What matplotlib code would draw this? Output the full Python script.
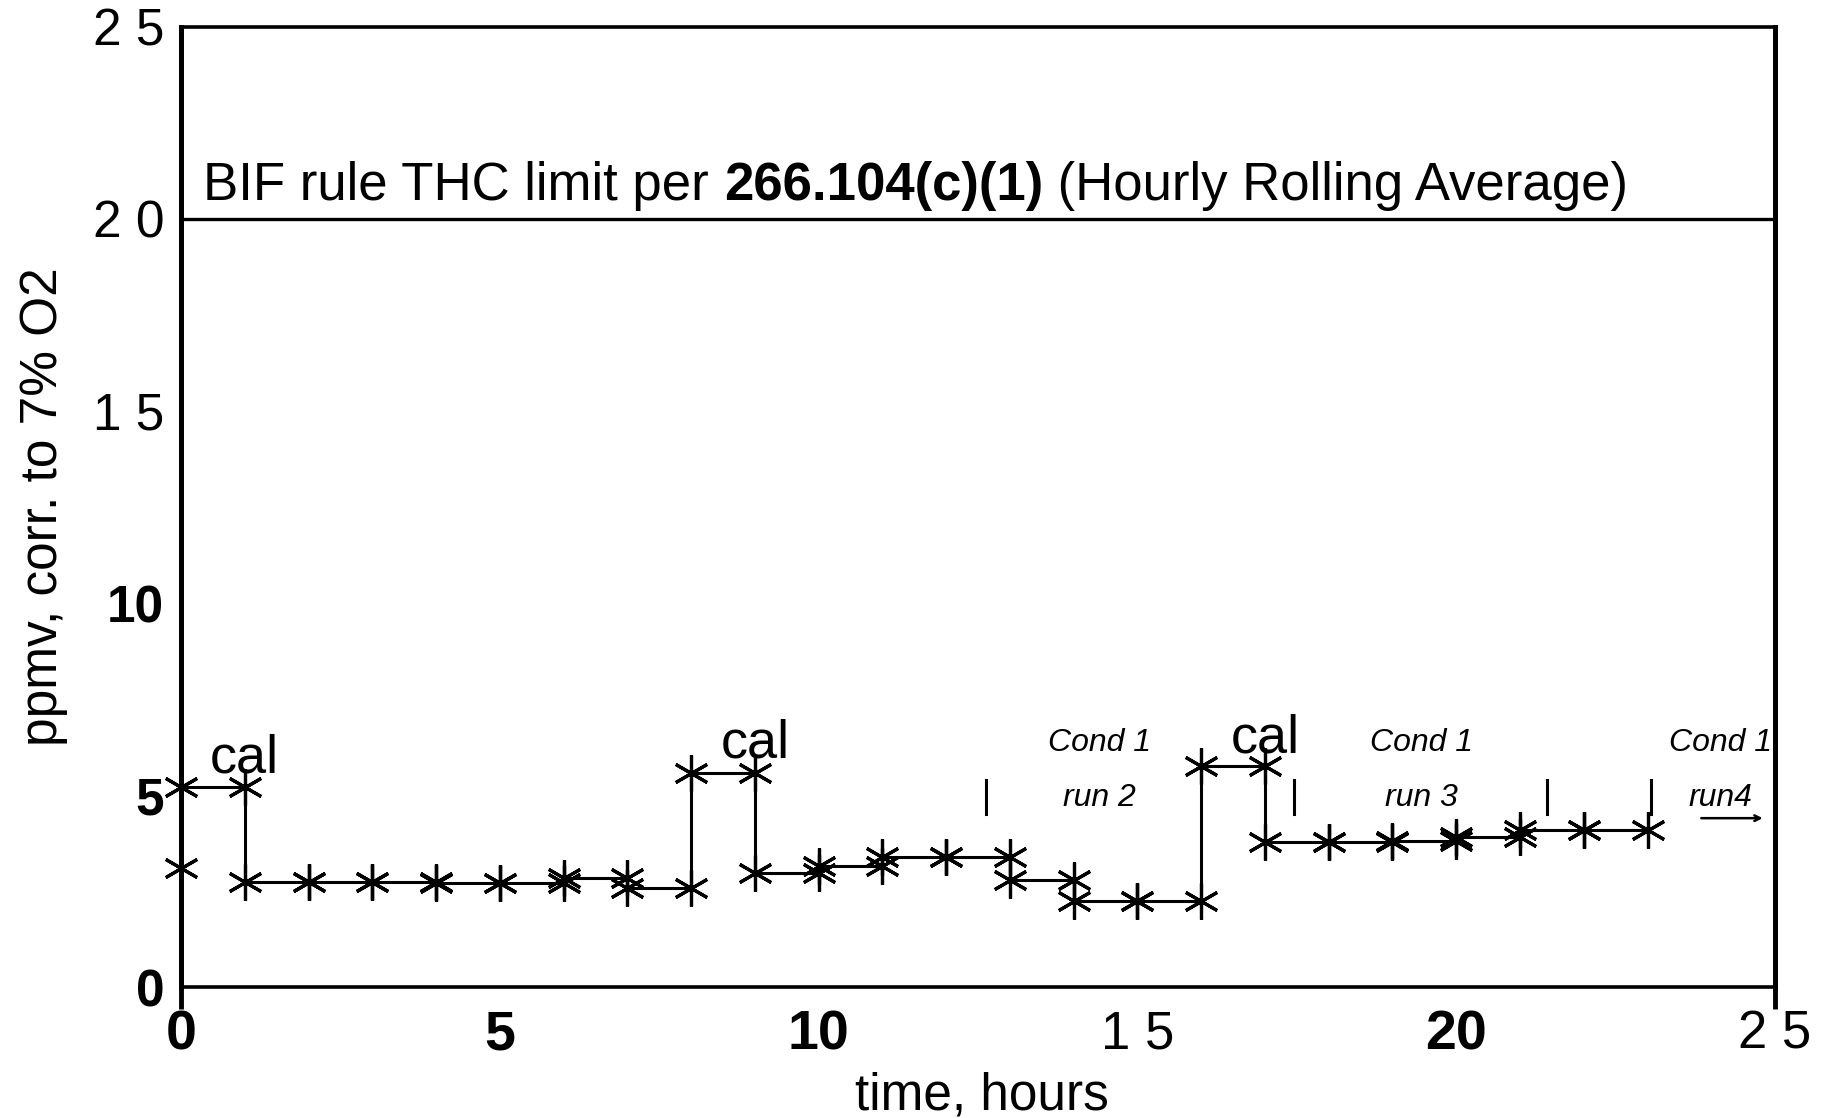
import numpy as np
import matplotlib.pyplot as plt

# hourly rolling average THC, each value covers hour h -> h+1
hour_start = np.arange(-1, 23)
thc_avg = [3.09, 5.21, 2.73, 2.73, 2.73, 2.72, 2.72, 2.84, 2.58, 5.58,
           2.96, 3.16, 3.39, 3.39, 2.79, 2.25, 2.25, 5.76, 3.78, 3.78,
           3.80, 3.92, 4.08, 4.08]

thc_limit = 20
limit_label = "BIF rule THC limit per "
limit_rule = "266.104(c)(1)"
limit_tail = " (Hourly Rolling Average)"

cal_hours = [1.0, 9.0, 17.0]
cal_levels = [5.6, 5.97, 6.12]

# handwritten run notes
note_x = [14.4, 19.45, 24.15]
note_text = ["Cond 1\nrun 2", "Cond 1\nrun 3", "Cond 1\nrun4"]
sep_x = [12.62, 17.46, 21.42, 23.06]

x_ticks = [0, 5, 10, 15, 20, 25]
x_ticklabels = ["0", "5", "10", "1 5", "20", "2 5"]
x_bold = [True, True, True, False, True, False]
y_ticks = [0, 5, 10, 15, 20, 25]
y_ticklabels = ["0", "5", "10", "1 5", "2 0", "2 5"]
y_bold = [True, True, True, False, False, False]

plt.rcParams['font.family'] = ['Liberation Sans', 'DejaVu Sans']
thin_font = ['Liberation Sans Narrow', 'Liberation Sans']

fig = plt.figure(figsize=(18.23, 11.18), dpi=100)
ax = fig.add_axes([0.0993, 0.117, 0.8744, 0.859])

xs = np.column_stack([hour_start, hour_start + 1]).ravel()
ys = np.repeat(thc_avg, 2)
ax.plot(xs, ys, color='k', lw=2.2)
keep = xs >= 0
# six-armed asterisk with a vertical arm, like the scanned markers
ax.plot(xs[keep], ys[keep], ls='none', marker=(6, 2, 0), ms=26, mew=2.3,
        color='k', clip_on=False)

ax.axhline(thc_limit, color='k', lw=2.4)
t1 = ax.text(0.35, thc_limit + 0.2, limit_label, fontsize=38, va='bottom')
t2 = ax.annotate(limit_rule, xy=(1, 0), xycoords=t1, va='bottom',
                 fontsize=38, fontweight='bold')
ax.annotate(limit_tail, xy=(1, 0), xycoords=t2, va='bottom', fontsize=38)

for cx, cy in zip(cal_hours, cal_levels):
    ax.text(cx, cy, "cal", fontsize=39, ha='center', va='baseline')

for nx, nt in zip(note_x, note_text):
    ax.text(nx, 5.65, nt, fontsize=23, ha='center', va='center',
            style='italic', linespacing=2.1)
ax.annotate("", xy=(24.85, 4.4), xytext=(23.8, 4.4),
            arrowprops=dict(arrowstyle='->', lw=1.8, color='k'))
for sx in sep_x:
    ax.plot([sx, sx], [4.5, 5.4], color='k', lw=2.2)

ax.set_xlim(0, 25)
ax.set_ylim(0, 25)
ax.set_xticks(x_ticks)
ax.set_yticks(y_ticks)
ax.set_xticklabels(x_ticklabels)
ax.set_yticklabels(y_ticklabels)
for lab, b in zip(ax.get_xticklabels(), x_bold):
    if b:
        lab.set_fontsize(40)
        lab.set_fontweight('bold')
    else:
        lab.set_fontsize(38)
        lab.set_family(thin_font)
for lab, b in zip(ax.get_yticklabels(), y_bold):
    lab.set_fontsize(37)
    if b:
        lab.set_fontweight('bold')
    else:
        lab.set_family(thin_font)
ax.tick_params(axis='both', length=0)
ax.tick_params(axis='x', pad=16)
ax.tick_params(axis='y', pad=12)
ax.xaxis.remove_overlapping_locs = False
ax.set_xticks([0, 25], minor=True)
ax.tick_params(axis='x', which='minor', length=16, width=3.5, direction='out')

for side in ['left', 'right']:
    ax.spines[side].set_linewidth(3.6)
for side in ['top', 'bottom']:
    ax.spines[side].set_linewidth(2.6)

ax.set_ylabel("ppmv, corr. to 7% O2", fontsize=37)
ax.yaxis.set_label_coords(-0.071, 0.5)
ax.set_xlabel("time, hours", fontsize=37)
ax.xaxis.set_label_coords(0.5025, -0.088)

fig.savefig('out.png', dpi=100)
